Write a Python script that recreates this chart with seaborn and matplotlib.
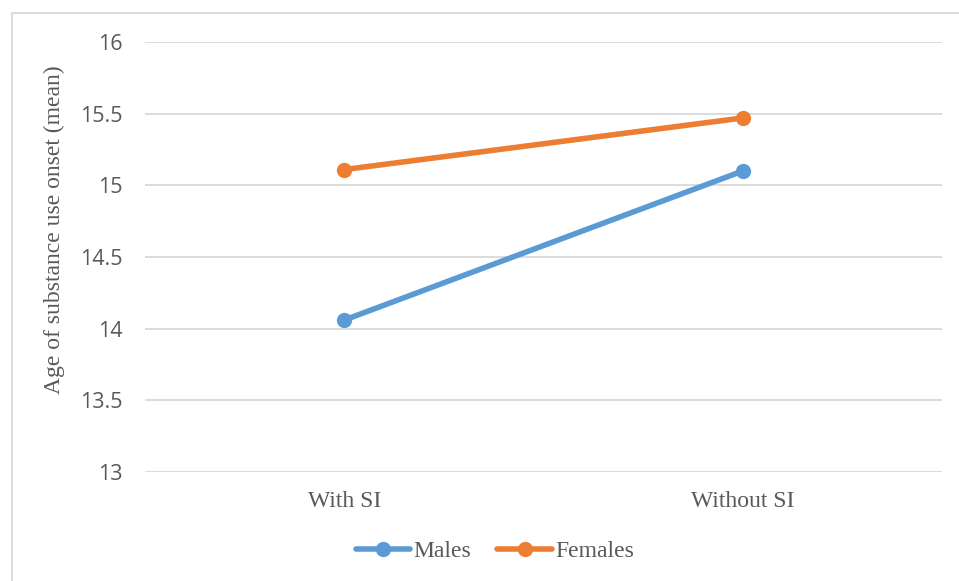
import matplotlib
matplotlib.use("Agg")
import matplotlib.pyplot as plt
import seaborn as sns
import pandas as pd
from matplotlib.patches import Rectangle
from matplotlib.lines import Line2D

categories = ["With SI", "Without SI"]
males = [14.06, 15.10]
females = [15.11, 15.47]
series_names = ["Males", "Females"]
y_ticks = [13, 13.5, 14, 14.5, 15, 15.5, 16]
y_tick_labels = ["13", "13.5", "14", "14.5", "15", "15.5", "16"]

df = pd.DataFrame({
    "cond": categories * 2,
    "value": males + females,
    "group": [series_names[0]] * 2 + [series_names[1]] * 2,
})

sns.set_style("white")
fig = plt.figure(figsize=(9.59, 5.81), dpi=100)
ax = fig.add_axes([145/959, 1 - 472/581, (942-145)/959, (472-42)/581])

palette = {"Males": "#5B9BD5", "Females": "#ED7D31"}
sns.lineplot(data=df, x="cond", y="value", hue="group", palette=palette,
             marker="o", markersize=11, linewidth=4, markeredgewidth=0,
             ax=ax, legend=False, sort=False)

ax.set_xlim(-0.5, 1.5)
ax.set_ylim(13, 16)
ax.set_yticks(y_ticks)
ax.set_yticklabels(y_tick_labels, fontfamily="Open Sans", fontsize=15.5, color="#595959")
ax.set_xticks([0, 1])
ax.set_xticklabels(categories, fontfamily="Liberation Serif", fontsize=17, color="#595959")
ax.tick_params(axis="both", length=0)
ax.tick_params(axis="y", pad=16)
ax.tick_params(axis="x", pad=14)
ax.grid(axis="y", color="#D9D9D9", linewidth=1.3)
ax.grid(axis="x", visible=False)
for s in ax.spines.values():
    s.set_visible(False)
ax.set_xlabel("")
ax.set_ylabel("Age of substance use onset (mean)", fontfamily="Liberation Serif",
              fontsize=17, color="#595959")
ax.yaxis.set_label_coords(-0.101, 0.563)

handles = [Line2D([0], [0], color=palette[n], lw=4, marker="o", markersize=11,
                  markeredgewidth=0, solid_capstyle="round") for n in series_names]
fig.legend(handles, series_names, loc="center", bbox_to_anchor=(495/959, 1 - 551/581),
           ncol=2, frameon=False, prop={"family": "Liberation Serif", "size": 17},
           labelcolor="#595959", handlelength=2.3, handletextpad=0.15, columnspacing=1.1)

fig.patches.append(Rectangle((12/959, -0.1), 1.2, 1 - 13/581 + 0.1, transform=fig.transFigure,
                             fill=False, edgecolor="#D9D9D9", linewidth=1.3))

fig.savefig("out.png", dpi=100)
